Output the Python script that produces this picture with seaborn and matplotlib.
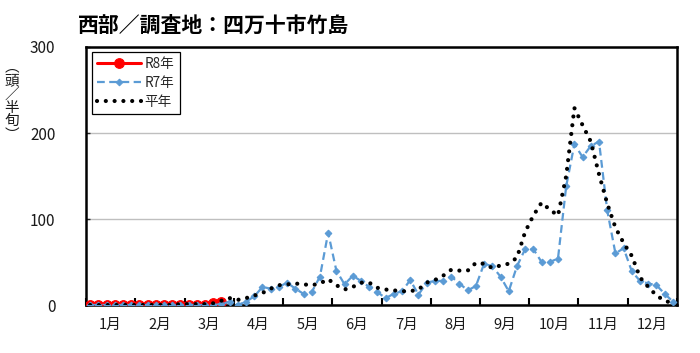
import numpy as np
import matplotlib
matplotlib.use("Agg")
import matplotlib.pyplot as plt
import seaborn as sns

# 西部／調査地：四万十市竹島 — 半旬別の誘殺数

months = [f"{m}月" for m in range(1, 13)]

# R8年 (3月前半まで)
r8 = [0, 0, 0, 0, 0, 0, 0, 0, 0, 0, 0, 0, 0, 0, 0, 2, 4]

# R7年
r7 = [0, 0, 0, 0, 0, 0, 0, 0, 0, 0, 0, 0, 0, 0, 0, 0, 1, 4,
      0, 4, 10, 21, 19, 21, 26, 19, 13, 15, 33, 84,
      40, 24, 34, 28, 21, 15, 8, 13, 16, 29, 12, 26,
      28, 28, 33, 25, 17, 22, 48, 45, 33, 16, 45, 65,
      65, 50, 50, 54, 138, 187, 172, 185, 190, 110, 60, 66,
      39, 28, 25, 23, 13, 4]

# 平年
heinen = [0, 0, 0, 0, 0, 0, 0, 0, 0, 0, 0, 1, 1, 1, 1, 2, 5, 8,
          6, 8, 11, 14, 19, 23, 24, 25, 24, 23, 25, 30,
          23, 18, 21, 26, 26, 20, 18, 17, 16, 16, 18, 26,
          29, 34, 41, 40, 40, 49, 48, 43, 46, 48, 55, 85,
          104, 119, 111, 104, 150, 229, 209, 190, 152, 118, 90, 72,
          57, 32, 21, 11, 5, 2]

sns.set_theme(style="white")
plt.rcParams["font.family"] = ["Noto Sans CJK JP", "DejaVu Sans"]
plt.rcParams["axes.unicode_minus"] = False

fig = plt.figure(figsize=(7, 3.53), dpi=100)
ax = fig.add_axes([86 / 700, 1 - 305 / 353, 591 / 700, 258 / 353])

sns.lineplot(x=np.arange(len(r8)), y=r8, ax=ax, color="#FF0000", linewidth=2.2,
             marker="o", markersize=7, markeredgecolor="#FF0000",
             markerfacecolor="#FF0000", label="R8年", zorder=3)
sns.lineplot(x=np.arange(len(r7)), y=r7, ax=ax, color="#5B9BD5", linewidth=1.6,
             linestyle=(0, (3.5, 2)), marker="D", markersize=3.4,
             markeredgecolor="#5B9BD5", markerfacecolor="#5B9BD5",
             label="R7年", zorder=4)
sns.lineplot(x=np.arange(len(heinen)), y=heinen, ax=ax, color="black", linewidth=3.0,
             linestyle=(0, (0.01, 2.1)), dash_capstyle="round",
             label="平年", zorder=5)

ax.set_xlim(-0.5, 71.5)
ax.set_ylim(0, 300)
ax.set_yticks([0, 100, 200, 300])
ax.set_xticks(np.arange(-0.5, 72, 6))
ax.set_xticks(np.arange(2.5, 72, 6), minor=True)
ax.set_xticklabels(months, minor=True)
ax.set_xlabel("")
ax.set_ylabel("")

ax.tick_params(axis="x", which="major", direction="in", length=5, width=1.5,
               color="black", labelbottom=False, bottom=True)
ax.tick_params(axis="x", which="minor", length=0, pad=9, labelsize=10.5,
               labelcolor="#1a1a1a", bottom=True)
ax.tick_params(axis="y", direction="in", length=3, width=1, pad=22,
               labelsize=11, labelcolor="#1a1a1a", left=True)

ax.yaxis.grid(True, color="#BFBFBF", linewidth=1)
ax.xaxis.grid(False)
ax.set_axisbelow(True)
for s in ax.spines.values():
    s.set_color("black")
    s.set_linewidth(1.8)

leg = ax.legend(loc="upper left", bbox_to_anchor=(0.0096, 0.982), borderaxespad=0,
                frameon=True, fancybox=False, edgecolor="black", framealpha=1,
                fontsize=9.8, handlelength=3.2, handletextpad=0.3,
                labelspacing=0.35, borderpad=0.4)
leg.get_frame().set_linewidth(0.9)

# タイトルと縦書きの単位
fig.text(78 / 700, 1 - 25 / 353, "西部／調査地：四万十市竹島", fontsize=15,
         fontweight="bold", ha="left", va="center", color="black")
fig.text(12 / 700, 1 - 101 / 353, "︵\n頭\n／\n半\n旬\n︶", fontsize=10.5,
         ha="center", va="center", linespacing=0.95, color="#1a1a1a")

fig.savefig("out.png", dpi=100)
